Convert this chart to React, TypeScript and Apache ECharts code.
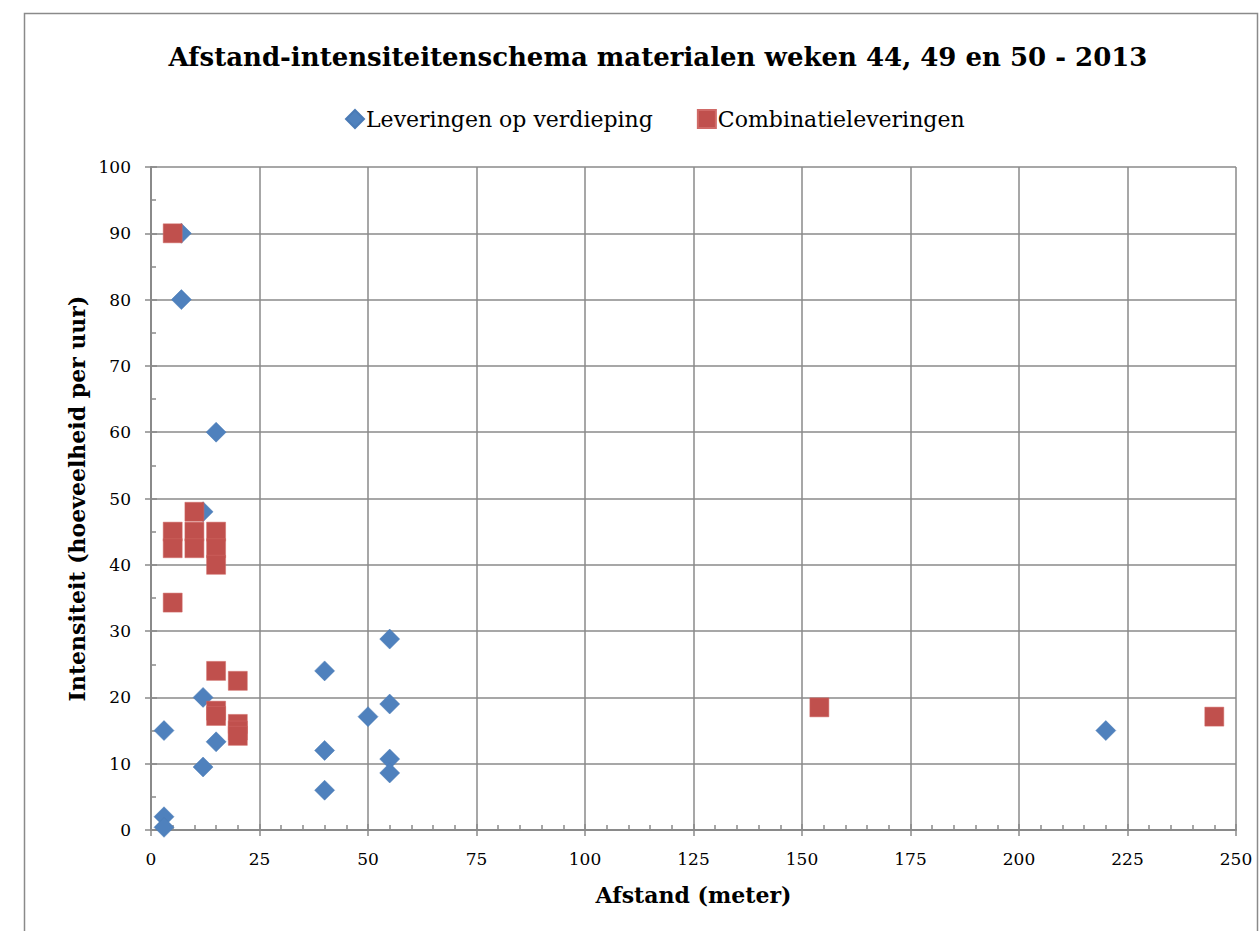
import React, { useEffect, useRef } from "react";
import * as echarts from "echarts";

const titleText = "Afstand-intensiteitenschema materialen weken 44, 49 en 50 - 2013";
const seriesNames = ["Leveringen op verdieping", "Combinatieleveringen"];
const xAxisName = "Afstand (meter)";
const yAxisName = "Intensiteit (hoeveelheid per uur)";

const leveringen: [number, number][] = [
  [7, 90], [7, 80], [15, 60], [12, 48], [3, 15], [12, 20], [15, 13.3], [12, 9.5],
  [3, 2], [3, 0.4], [55, 28.8], [40, 24], [55, 19], [50, 17.1], [40, 12],
  [55, 10.7], [55, 8.6], [40, 6], [220, 15],
];
const combinatie: [number, number][] = [
  [5, 90], [5, 45], [5, 42.5], [10, 48], [10, 45], [10, 42.5], [15, 45], [15, 42.5],
  [15, 40], [5, 34.3], [15, 24], [20, 22.5], [15, 18], [15, 17.2], [20, 16],
  [20, 15], [20, 14.2], [154, 18.5], [245, 17.1],
];

const FONT = "DejaVu Serif";
const GRID_COLOR = "#8a8a8a";

export default function App() {
  const ref = useRef<HTMLDivElement>(null);
  useEffect(() => {
    if (!ref.current) return;
    const chart = echarts.init(ref.current, null, { renderer: "svg" });
    const baseX = { type: "value", min: 0, max: 250, interval: 25 };
    const baseY = { type: "value", min: 0, max: 100, interval: 10 };
    chart.setOption({
      animation: false,
      backgroundColor: "#ffffff",
      textStyle: { fontFamily: FONT },
      title: {
        text: titleText,
        left: 653,
        textAlign: "center",
        top: 39,
        textStyle: { fontFamily: FONT, fontWeight: "bold", fontSize: 26, color: "#000" },
      },
      legend: {
        top: 103,
        left: 340,
        itemGap: 44,
        itemWidth: 18,
        itemHeight: 18,
        textStyle: { fontFamily: FONT, fontSize: 22, color: "#000", padding: [0, 0, 0, -3] },
        data: [
          { name: seriesNames[0], icon: "diamond" },
          { name: seriesNames[1], icon: "rect" },
        ],
      },
      graphic: [
        {
          type: "rect",
          shape: { x: 24.5, y: 13.5, width: 1233, height: 940 },
          style: { fill: "none", stroke: "#8a8a8a", lineWidth: 1.5 },
          silent: true,
          z: -10,
        },
      ],
      grid: { left: 151, top: 167, right: 24, bottom: 101, containLabel: false },
      xAxis: [
        {
          ...baseX,
          name: xAxisName,
          nameLocation: "middle",
          nameGap: 54,
          nameMoveOverlap: false,
          nameTextStyle: { fontFamily: FONT, fontWeight: "bold", fontSize: 22, color: "#000" },
          axisLine: { show: true, lineStyle: { color: GRID_COLOR, width: 2 } },
          axisTick: { show: true, inside: true, length: 6, lineStyle: { color: GRID_COLOR, width: 1.5 } },
          minorTick: { show: true, splitNumber: 5, length: 5, lineStyle: { color: GRID_COLOR, width: 1.5 } },
          axisLabel: { fontFamily: FONT, fontSize: 17, color: "#000", margin: 20 },
          splitLine: { show: true, lineStyle: { color: GRID_COLOR, width: 1.5 } },
        },
        {
          ...baseX,
          position: "bottom",
          axisLine: { show: false },
          axisTick: { show: true, inside: false, length: 6, lineStyle: { color: GRID_COLOR, width: 1.5 } },
          axisLabel: { show: false },
          splitLine: { show: false },
        },
      ],
      yAxis: [
        {
          ...baseY,
          name: yAxisName,
          nameLocation: "middle",
          nameGap: 63,
          nameRotate: 90,
          nameMoveOverlap: false,
          nameTextStyle: { fontFamily: FONT, fontWeight: "bold", fontSize: 22, color: "#000" },
          axisLine: { show: true, lineStyle: { color: GRID_COLOR, width: 2 } },
          axisTick: { show: true, inside: true, length: 6, lineStyle: { color: GRID_COLOR, width: 1.5 } },
          minorTick: { show: true, splitNumber: 2, length: 5, lineStyle: { color: GRID_COLOR, width: 1.5 } },
          axisLabel: { fontFamily: FONT, fontSize: 17, color: "#000", margin: 20 },
          splitLine: { show: true, lineStyle: { color: GRID_COLOR, width: 1.5 } },
        },
        {
          ...baseY,
          position: "left",
          axisLine: { show: false },
          axisTick: { show: true, inside: false, length: 6, lineStyle: { color: GRID_COLOR, width: 1.5 } },
          axisLabel: { show: false },
          splitLine: { show: false },
        },
      ],
      series: [
        {
          name: seriesNames[0],
          type: "scatter",
          symbol: "diamond",
          symbolSize: 20,
          itemStyle: { color: "#4F81BD", opacity: 1, borderColor: "#4a7ab5", borderWidth: 0.5 },
          data: leveringen,
        },
        {
          name: seriesNames[1],
          type: "scatter",
          symbol: "rect",
          symbolSize: 19,
          itemStyle: { color: "#C0504D", opacity: 1, borderColor: "#d06a67", borderWidth: 0.5 },
          data: combinatie,
        },
      ],
    });
    return () => chart.dispose();
  }, []);
  return (
    <div
      ref={ref}
      style={{ position: "fixed", left: 0, top: 0, width: 1260, height: 931, background: "#fff" }}
    />
  );
}
